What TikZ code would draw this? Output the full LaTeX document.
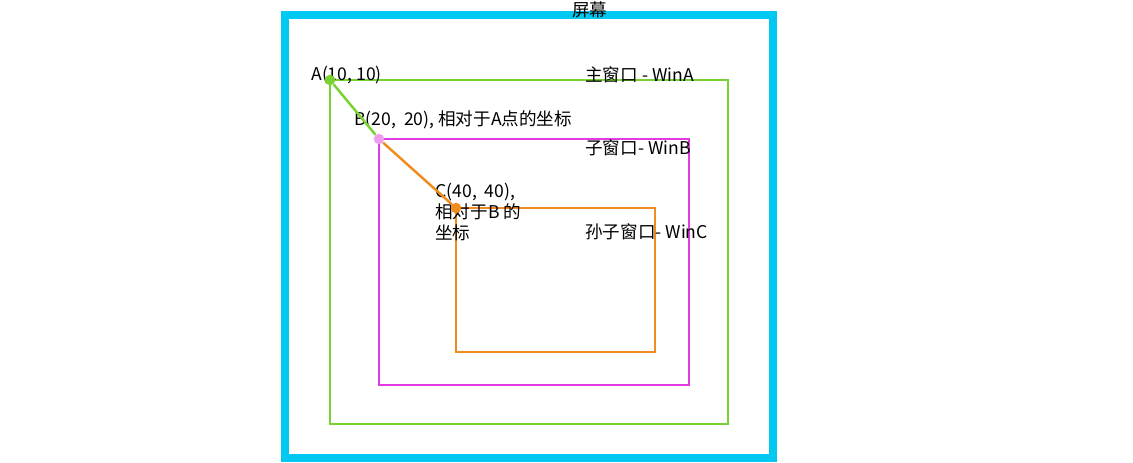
\documentclass[tikz,border=0pt]{standalone}
\usepackage{fontspec}
\setmainfont{Noto Sans CJK SC}
\usetikzlibrary{positioning}
\definecolor{screenc}{RGB}{0,200,240}
\definecolor{winac}{RGB}{120,210,50}
\definecolor{winbc}{RGB}{225,60,225}
\definecolor{wincc}{RGB}{240,140,30}
\tikzset{
  win/.style={line width=1.4pt},
  dot/.style={circle,inner sep=0pt,minimum size=6pt},
  lbl/.style={anchor=west,inner sep=0pt,font=\normalsize,align=left}
}
\begin{document}
\begin{tikzpicture}[x=0.02cm,y=-0.02cm]
    \useasboundingbox (0,0) rectangle (1133,463);
    \draw[screenc,line width=4pt] (285,15) rectangle (773,458);
    \draw[win,winac] (330,80) rectangle (728,424);
    \draw[win,winbc] (379,139) rectangle (689,385);
    \draw[win,wincc] (456,208) rectangle (655,352);

    \node[lbl] (screen) at (572,10) {屏幕};
    \node[lbl] (wina) at (585,75) {主窗口 - WinA};
    \node[lbl] (winb) at (585,148) {子窗口- WinB};
    \node[lbl] (winc) at (585,232) {孙子窗口- WinC};
    \node[lbl] (la) at (311,75) {A(10, 10)};
    \node[lbl] (lb) at (354,120) {B(20,\ \ 20), 相对于A点的坐标};
    \node[lbl,anchor=north west] (lc) at (435,183) {C(40,\ \ 40),\\相对于B 的\\坐标};

    \node[dot,fill=winac] (A) at (330,80) {};
    \node[dot,fill=winbc!50] (B) at (379,139) {};
    \node[dot,fill=wincc] (C) at (456,208) {};
    \draw[win,winac] (A) -- (B);
    \draw[win,wincc] (B) -- (C);
\end{tikzpicture}
\end{document}
